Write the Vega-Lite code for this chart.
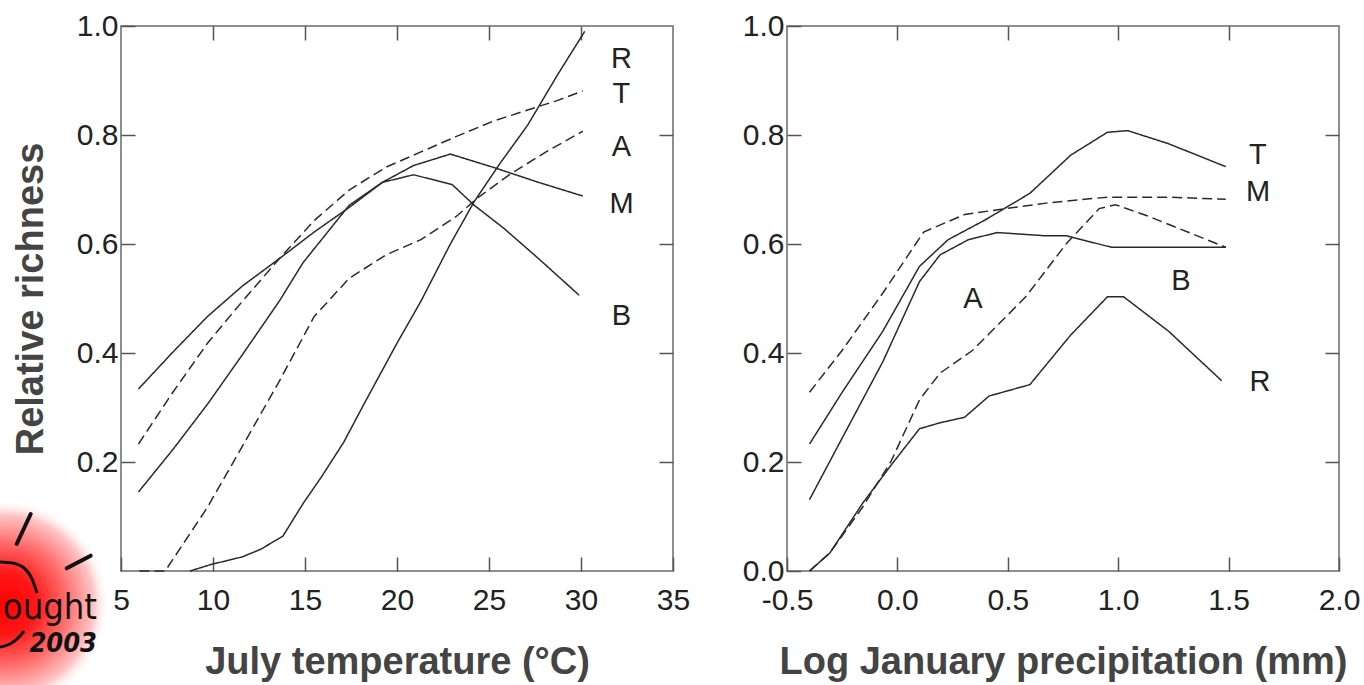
{
  "$schema": "https://vega.github.io/schema/vega-lite/v6.json",
  "padding": {"left": -7, "top": 10, "right": 5, "bottom": 0},
  "spacing": 50,
  "datasets": {
    "temp": [
      {"g": "R", "s": "solid", "x": 8.75, "y": 0}, {"g": "R", "s": "solid", "x": 9.9, "y": 0.012}, {"g": "R", "s": "solid", "x": 11.6, "y": 0.026}, {"g": "R", "s": "solid", "x": 12.6, "y": 0.04}, {"g": "R", "s": "solid", "x": 13.8, "y": 0.064}, {"g": "R", "s": "solid", "x": 14.9, "y": 0.124}, {"g": "R", "s": "solid", "x": 15.9, "y": 0.173}, {"g": "R", "s": "solid", "x": 17.1, "y": 0.236}, {"g": "R", "s": "solid", "x": 18.2, "y": 0.306}, {"g": "R", "s": "solid", "x": 20, "y": 0.418}, {"g": "R", "s": "solid", "x": 21.3, "y": 0.495}, {"g": "R", "s": "solid", "x": 22.9, "y": 0.6}, {"g": "R", "s": "solid", "x": 24.2, "y": 0.678}, {"g": "R", "s": "solid", "x": 25.6, "y": 0.748}, {"g": "R", "s": "solid", "x": 27.1, "y": 0.818}, {"g": "R", "s": "solid", "x": 28.7, "y": 0.909}, {"g": "R", "s": "solid", "x": 30.2, "y": 0.99},
      {"g": "T", "s": "dashed", "x": 5.95, "y": 0.233}, {"g": "T", "s": "dashed", "x": 7.8, "y": 0.327}, {"g": "T", "s": "dashed", "x": 9.7, "y": 0.418}, {"g": "T", "s": "dashed", "x": 11.6, "y": 0.495}, {"g": "T", "s": "dashed", "x": 13.6, "y": 0.573}, {"g": "T", "s": "dashed", "x": 15.5, "y": 0.643}, {"g": "T", "s": "dashed", "x": 17.4, "y": 0.699}, {"g": "T", "s": "dashed", "x": 19.4, "y": 0.741}, {"g": "T", "s": "dashed", "x": 21.3, "y": 0.769}, {"g": "T", "s": "dashed", "x": 23.2, "y": 0.797}, {"g": "T", "s": "dashed", "x": 25.2, "y": 0.825}, {"g": "T", "s": "dashed", "x": 27.1, "y": 0.846}, {"g": "T", "s": "dashed", "x": 28.7, "y": 0.863}, {"g": "T", "s": "dashed", "x": 30.1, "y": 0.881},
      {"g": "M", "s": "solid", "x": 5.95, "y": 0.334}, {"g": "M", "s": "solid", "x": 7.8, "y": 0.401}, {"g": "M", "s": "solid", "x": 9.7, "y": 0.467}, {"g": "M", "s": "solid", "x": 11.6, "y": 0.523}, {"g": "M", "s": "solid", "x": 13.6, "y": 0.573}, {"g": "M", "s": "solid", "x": 15.5, "y": 0.622}, {"g": "M", "s": "solid", "x": 17.4, "y": 0.667}, {"g": "M", "s": "solid", "x": 19.2, "y": 0.713}, {"g": "M", "s": "solid", "x": 20.9, "y": 0.744}, {"g": "M", "s": "solid", "x": 22.9, "y": 0.765}, {"g": "M", "s": "solid", "x": 25.2, "y": 0.741}, {"g": "M", "s": "solid", "x": 27.7, "y": 0.713}, {"g": "M", "s": "solid", "x": 30.1, "y": 0.688},
      {"g": "B", "s": "solid", "x": 5.95, "y": 0.145}, {"g": "B", "s": "solid", "x": 7.8, "y": 0.222}, {"g": "B", "s": "solid", "x": 9.7, "y": 0.306}, {"g": "B", "s": "solid", "x": 11.6, "y": 0.397}, {"g": "B", "s": "solid", "x": 13.6, "y": 0.495}, {"g": "B", "s": "solid", "x": 14.9, "y": 0.566}, {"g": "B", "s": "solid", "x": 15.9, "y": 0.608}, {"g": "B", "s": "solid", "x": 17.4, "y": 0.671}, {"g": "B", "s": "solid", "x": 19.2, "y": 0.713}, {"g": "B", "s": "solid", "x": 20.9, "y": 0.727}, {"g": "B", "s": "solid", "x": 23, "y": 0.709}, {"g": "B", "s": "solid", "x": 24.2, "y": 0.671}, {"g": "B", "s": "solid", "x": 25.8, "y": 0.629}, {"g": "B", "s": "solid", "x": 27.7, "y": 0.573}, {"g": "B", "s": "solid", "x": 29.9, "y": 0.506},
      {"g": "A", "s": "dashed", "x": 6, "y": 0}, {"g": "A", "s": "dashed", "x": 7.4, "y": 0}, {"g": "A", "s": "dashed", "x": 9.7, "y": 0.117}, {"g": "A", "s": "dashed", "x": 11.6, "y": 0.229}, {"g": "A", "s": "dashed", "x": 13.6, "y": 0.348}, {"g": "A", "s": "dashed", "x": 15.5, "y": 0.467}, {"g": "A", "s": "dashed", "x": 17.4, "y": 0.537}, {"g": "A", "s": "dashed", "x": 19.4, "y": 0.58}, {"g": "A", "s": "dashed", "x": 21.3, "y": 0.608}, {"g": "A", "s": "dashed", "x": 23.2, "y": 0.65}, {"g": "A", "s": "dashed", "x": 24.4, "y": 0.685}, {"g": "A", "s": "dashed", "x": 26.1, "y": 0.727}, {"g": "A", "s": "dashed", "x": 28.1, "y": 0.769}, {"g": "A", "s": "dashed", "x": 30.1, "y": 0.807}
    ],
    "tempLabels": [
      {"label": "R", "x": 32.2, "y": 0.939}, {"label": "T", "x": 32.2, "y": 0.875}, {"label": "A", "x": 32.2, "y": 0.778}, {"label": "M", "x": 32.2, "y": 0.673}, {"label": "B", "x": 32.2, "y": 0.468}
    ],
    "logoBlob": [
      {"x": -1.576, "x2": 8.75, "y": 0.1321, "y2": -0.2165}
    ],
    "logoRays": [
      {"x": -0.668, "y": 0.0495, "x2": 0.092, "y2": 0.1046},
      {"x": 2.049, "y": 0.0049, "x2": 3.353, "y2": 0.0281}
    ],
    "logoArcs": [
      {"k": "upper", "x": -1.576, "y": 0.0165}, {"k": "upper", "x": -0.924, "y": 0.0147}, {"k": "upper", "x": -0.272, "y": 0.0055}, {"k": "upper", "x": 0.163, "y": -0.0147}, {"k": "upper", "x": 0.435, "y": -0.0404},
      {"k": "lower", "x": -1.576, "y": -0.1395}, {"k": "lower", "x": -1.033, "y": -0.1339}, {"k": "lower", "x": -0.489, "y": -0.1193}, {"k": "lower", "x": -0.272, "y": -0.1101}
    ],
    "logoText": [
      {"t": "ought", "x": 3.696, "y": -0.0881, "f": "big"},
      {"t": "2003", "x": 3.696, "y": -0.1486, "f": "small"}
    ],
    "prec": [
      {"g": "T", "s": "solid", "x": -0.398, "y": 0.233}, {"g": "T", "s": "solid", "x": -0.25, "y": 0.328}, {"g": "T", "s": "solid", "x": -0.066, "y": 0.44}, {"g": "T", "s": "solid", "x": 0.1, "y": 0.559}, {"g": "T", "s": "solid", "x": 0.23, "y": 0.608}, {"g": "T", "s": "solid", "x": 0.397, "y": 0.644}, {"g": "T", "s": "solid", "x": 0.6, "y": 0.693}, {"g": "T", "s": "solid", "x": 0.785, "y": 0.763}, {"g": "T", "s": "solid", "x": 0.951, "y": 0.805}, {"g": "T", "s": "solid", "x": 1.043, "y": 0.808}, {"g": "T", "s": "solid", "x": 1.228, "y": 0.784}, {"g": "T", "s": "solid", "x": 1.487, "y": 0.742},
      {"g": "B", "s": "solid", "x": -0.398, "y": 0.131}, {"g": "B", "s": "solid", "x": -0.25, "y": 0.244}, {"g": "B", "s": "solid", "x": -0.066, "y": 0.384}, {"g": "B", "s": "solid", "x": 0.1, "y": 0.531}, {"g": "B", "s": "solid", "x": 0.193, "y": 0.58}, {"g": "B", "s": "solid", "x": 0.322, "y": 0.608}, {"g": "B", "s": "solid", "x": 0.452, "y": 0.621}, {"g": "B", "s": "solid", "x": 0.674, "y": 0.615}, {"g": "B", "s": "solid", "x": 0.766, "y": 0.615}, {"g": "B", "s": "solid", "x": 0.97, "y": 0.594}, {"g": "B", "s": "solid", "x": 1.487, "y": 0.594},
      {"g": "M", "s": "dashed", "x": -0.398, "y": 0.328}, {"g": "M", "s": "dashed", "x": -0.25, "y": 0.405}, {"g": "M", "s": "dashed", "x": -0.066, "y": 0.51}, {"g": "M", "s": "dashed", "x": 0.119, "y": 0.622}, {"g": "M", "s": "dashed", "x": 0.304, "y": 0.654}, {"g": "M", "s": "dashed", "x": 0.489, "y": 0.665}, {"g": "M", "s": "dashed", "x": 0.674, "y": 0.675}, {"g": "M", "s": "dashed", "x": 0.951, "y": 0.686}, {"g": "M", "s": "dashed", "x": 1.228, "y": 0.686}, {"g": "M", "s": "dashed", "x": 1.487, "y": 0.682},
      {"g": "A", "s": "dashed", "x": -0.398, "y": 0}, {"g": "A", "s": "dashed", "x": -0.306, "y": 0.033}, {"g": "A", "s": "dashed", "x": -0.158, "y": 0.117}, {"g": "A", "s": "dashed", "x": -0.029, "y": 0.201}, {"g": "A", "s": "dashed", "x": 0.1, "y": 0.314}, {"g": "A", "s": "dashed", "x": 0.193, "y": 0.363}, {"g": "A", "s": "dashed", "x": 0.341, "y": 0.405}, {"g": "A", "s": "dashed", "x": 0.581, "y": 0.503}, {"g": "A", "s": "dashed", "x": 0.766, "y": 0.601}, {"g": "A", "s": "dashed", "x": 0.914, "y": 0.665}, {"g": "A", "s": "dashed", "x": 0.988, "y": 0.672}, {"g": "A", "s": "dashed", "x": 1.136, "y": 0.651}, {"g": "A", "s": "dashed", "x": 1.487, "y": 0.594},
      {"g": "R", "s": "solid", "x": -0.398, "y": 0}, {"g": "R", "s": "solid", "x": -0.306, "y": 0.033}, {"g": "R", "s": "solid", "x": -0.158, "y": 0.124}, {"g": "R", "s": "solid", "x": -0.029, "y": 0.194}, {"g": "R", "s": "solid", "x": 0.1, "y": 0.261}, {"g": "R", "s": "solid", "x": 0.193, "y": 0.272}, {"g": "R", "s": "solid", "x": 0.304, "y": 0.282}, {"g": "R", "s": "solid", "x": 0.415, "y": 0.321}, {"g": "R", "s": "solid", "x": 0.6, "y": 0.342}, {"g": "R", "s": "solid", "x": 0.785, "y": 0.433}, {"g": "R", "s": "solid", "x": 0.951, "y": 0.503}, {"g": "R", "s": "solid", "x": 1.025, "y": 0.503}, {"g": "R", "s": "solid", "x": 1.228, "y": 0.44}, {"g": "R", "s": "solid", "x": 1.469, "y": 0.349}
    ],
    "precLabels": [
      {"label": "T", "x": 1.633, "y": 0.764}, {"label": "M", "x": 1.633, "y": 0.695}, {"label": "B", "x": 1.284, "y": 0.532}, {"label": "A", "x": 0.342, "y": 0.499}, {"label": "R", "x": 1.642, "y": 0.347}
    ]
  },
  "config": {
    "font": "Liberation Sans",
    "view": {"stroke": "#6a6a6a", "strokeWidth": 1.5},
    "axis": {
      "grid": false,
      "domain": false,
      "labelFlush": false,
      "tickColor": "#555",
      "tickWidth": 1.5,
      "tickSize": -14,
      "labelFont": "Liberation Sans",
      "labelFontSize": 30,
      "labelColor": "#222",
      "titleFont": "Liberation Sans",
      "titleFontSize": 38,
      "titleFontWeight": "bold",
      "titleColor": "#444"
    },
    "axisX": {"labelPadding": 28, "titlePadding": 28},
    "axisY": {"labelPadding": 17, "titlePadding": 26},
    "text": {"font": "Liberation Sans", "fontSize": 29, "color": "#222"},
    "line": {"color": "#2a2a2a", "strokeWidth": 1.5}
  },
  "hconcat": [
    {
      "width": 552,
      "height": 545,
      "layer": [
        {
          "data": {"name": "logoBlob"},
          "mark": {"type": "rect", "color": {"gradient": "radial", "x1": 0.026, "y1": 0.553, "r1": 0, "x2": 0.026, "y2": 0.553, "r2": 0.55, "stops": [{"offset": 0, "color": "#ff0000"}, {"offset": 0.3, "color": "#ff1818"}, {"offset": 0.6, "color": "#ff7070"}, {"offset": 0.85, "color": "#ffc4c4"}, {"offset": 1, "color": "rgba(255,255,255,0)"}]}},
          "encoding": {
            "x": {"field": "x", "type": "quantitative", "scale": {"domain": [5, 35], "nice": false}, "axis": null},
            "x2": {"field": "x2"},
            "y": {"field": "y", "type": "quantitative", "scale": {"domain": [0, 1], "nice": false}, "axis": null},
            "y2": {"field": "y2"}
          }
        },
        {
          "data": {"name": "logoRays"},
          "mark": {"type": "rule", "color": "#111", "strokeWidth": 4, "strokeCap": "round"},
          "encoding": {
            "x": {"field": "x", "type": "quantitative", "scale": {"domain": [5, 35], "nice": false}, "axis": null},
            "x2": {"field": "x2"},
            "y": {"field": "y", "type": "quantitative", "scale": {"domain": [0, 1], "nice": false}, "axis": null},
            "y2": {"field": "y2"}
          }
        },
        {
          "data": {"name": "logoArcs"},
          "mark": {"type": "line", "color": "#111", "strokeWidth": 3, "interpolate": "monotone"},
          "encoding": {
            "x": {"field": "x", "type": "quantitative", "scale": {"domain": [5, 35], "nice": false}, "axis": null},
            "y": {"field": "y", "type": "quantitative", "scale": {"domain": [0, 1], "nice": false}, "axis": null},
            "detail": {"field": "k"}
          }
        },
        {
          "data": {"name": "logoText"},
          "transform": [{"filter": "datum.f === 'big'"}],
          "mark": {"type": "text", "align": "right", "baseline": "alphabetic", "font": "DejaVu Sans Condensed", "fontSize": 36, "color": "#111"},
          "encoding": {
            "x": {"field": "x", "type": "quantitative", "scale": {"domain": [5, 35], "nice": false}, "axis": null},
            "y": {"field": "y", "type": "quantitative", "scale": {"domain": [0, 1], "nice": false}, "axis": null},
            "text": {"field": "t"}
          }
        },
        {
          "data": {"name": "logoText"},
          "transform": [{"filter": "datum.f === 'small'"}],
          "mark": {"type": "text", "align": "right", "baseline": "alphabetic", "font": "DejaVu Sans Condensed", "fontSize": 27, "fontStyle": "italic", "fontWeight": "bold", "color": "#111"},
          "encoding": {
            "x": {"field": "x", "type": "quantitative", "scale": {"domain": [5, 35], "nice": false}, "axis": null},
            "y": {"field": "y", "type": "quantitative", "scale": {"domain": [0, 1], "nice": false}, "axis": null},
            "text": {"field": "t"}
          }
        },
        {
          "data": {"name": "temp"},
          "mark": {"type": "line"},
          "encoding": {
            "x": {"field": "x", "type": "quantitative", "scale": {"domain": [5, 35], "nice": false}, "axis": {"values": [5, 10, 15, 20, 25, 30, 35], "title": "July temperature (°C)"}},
            "y": {"field": "y", "type": "quantitative", "scale": {"domain": [0, 1], "nice": false}, "axis": {"values": [0.2, 0.4, 0.6, 0.8, 1.0], "format": ".1f", "title": "Relative richness"}},
            "detail": {"field": "g"},
            "strokeDash": {"field": "s", "type": "nominal", "scale": {"domain": ["solid", "dashed"], "range": [[1, 0], [10, 5]]}, "legend": null}
          }
        },
        {
          "data": {"name": "tempLabels"},
          "mark": {"type": "text", "align": "center", "baseline": "middle"},
          "encoding": {
            "x": {"field": "x", "type": "quantitative", "scale": {"domain": [5, 35], "nice": false}, "axis": {"orient": "top", "values": [10, 15, 20, 25, 30], "labels": false, "title": null}},
            "y": {"field": "y", "type": "quantitative", "scale": {"domain": [0, 1], "nice": false}, "axis": {"orient": "right", "values": [0.2, 0.4, 0.6, 0.8], "labels": false, "title": null}},
            "text": {"field": "label"}
          }
        }
      ],
      "resolve": {"axis": {"x": "independent", "y": "independent"}}
    },
    {
      "width": 552,
      "height": 545,
      "layer": [
        {
          "data": {"name": "prec"},
          "mark": {"type": "line"},
          "encoding": {
            "x": {"field": "x", "type": "quantitative", "scale": {"domain": [-0.5, 2.0], "nice": false, "zero": false}, "axis": {"values": [-0.5, 0, 0.5, 1, 1.5, 2], "format": ".1f", "labelExpr": "replace(datum.label, '\u2212', '-')", "title": "Log January precipitation (mm)"}},
            "y": {"field": "y", "type": "quantitative", "scale": {"domain": [0, 1], "nice": false}, "axis": {"values": [0, 0.2, 0.4, 0.6, 0.8, 1.0], "format": ".1f", "title": null}},
            "detail": {"field": "g"},
            "strokeDash": {"field": "s", "type": "nominal", "scale": {"domain": ["solid", "dashed"], "range": [[1, 0], [10, 5]]}, "legend": null}
          }
        },
        {
          "data": {"name": "precLabels"},
          "mark": {"type": "text", "align": "center", "baseline": "middle"},
          "encoding": {
            "x": {"field": "x", "type": "quantitative", "scale": {"domain": [-0.5, 2.0], "nice": false, "zero": false}, "axis": {"orient": "top", "values": [0, 0.5, 1, 1.5], "labels": false, "title": null}},
            "y": {"field": "y", "type": "quantitative", "scale": {"domain": [0, 1], "nice": false}, "axis": {"orient": "right", "values": [0.2, 0.4, 0.6, 0.8], "labels": false, "title": null}},
            "text": {"field": "label"}
          }
        }
      ],
      "resolve": {"axis": {"x": "independent", "y": "independent"}}
    }
  ]
}
